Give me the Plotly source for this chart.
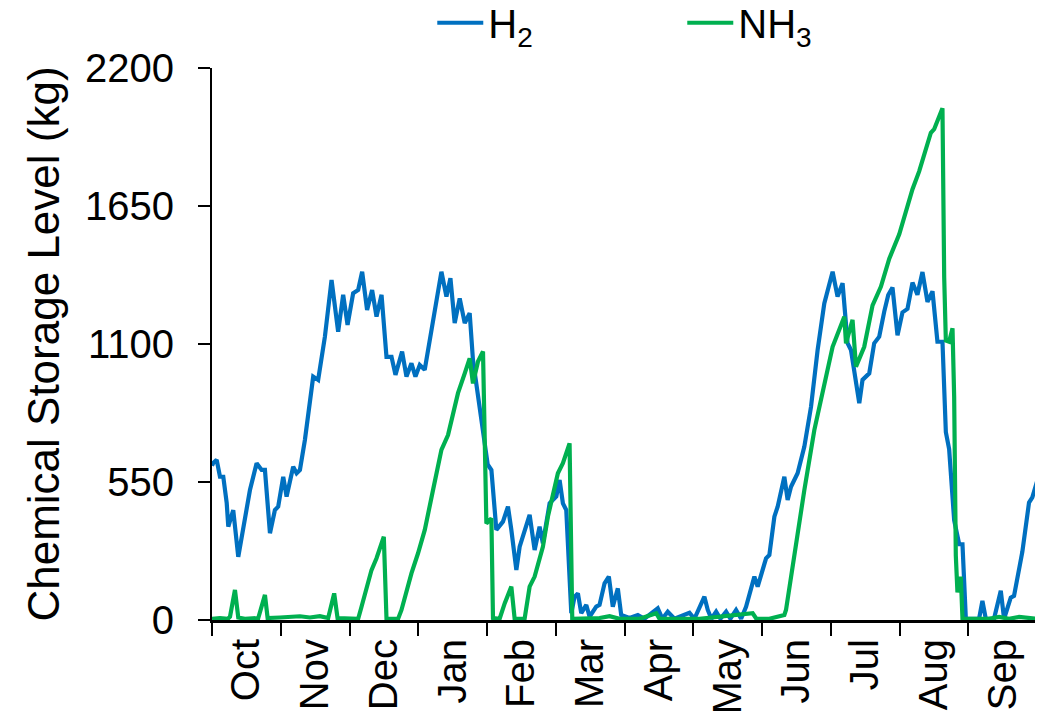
import plotly.graph_objects as go

months = ["Oct", "Nov", "Dec", "Jan", "Feb", "Mar", "Apr", "May", "Jun", "Jul", "Aug", "Sep"]

# time position in months since start of October (each month equal width)
h2_t = [0.000, 0.019, 0.068, 0.116, 0.164, 0.214, 0.237, 0.309, 0.382, 0.431, 0.479, 0.552, 0.649, 0.722,
        0.770, 0.843, 0.915, 0.963, 1.036, 1.085, 1.181, 1.231, 1.279, 1.351, 1.472, 1.544, 1.642, 1.739,
        1.835, 1.908, 1.972, 2.053, 2.126, 2.184, 2.256, 2.329, 2.393, 2.466, 2.538, 2.611, 2.669, 2.765,
        2.829, 2.901, 2.959, 3.022, 3.094, 3.215, 3.337, 3.410, 3.468, 3.530, 3.603, 3.676, 3.748, 3.796,
        3.865, 3.966, 4.010, 4.064, 4.112, 4.136, 4.232, 4.305, 4.354, 4.427, 4.475, 4.620, 4.693, 4.765,
        4.813, 4.911, 5.008, 5.056, 5.104, 5.153, 5.226, 5.274, 5.322, 5.371, 5.444, 5.492, 5.589, 5.637,
        5.710, 5.772, 5.830, 5.903, 5.952, 6.073, 6.194, 6.291, 6.484, 6.552, 6.629, 6.727, 6.945, 7.017,
        7.162, 7.211, 7.264, 7.333, 7.395, 7.478, 7.540, 7.623, 7.696, 7.768, 7.889, 7.937, 8.059, 8.107,
        8.180, 8.228, 8.325, 8.373, 8.422, 8.518, 8.616, 8.713, 8.809, 8.906, 9.027, 9.099, 9.172, 9.245,
        9.294, 9.367, 9.415, 9.462, 9.560, 9.632, 9.705, 9.778, 9.836, 9.898, 9.971, 10.043, 10.116, 10.189,
        10.261, 10.334, 10.407, 10.480, 10.552, 10.625, 10.674, 10.722, 10.795, 10.868, 10.916, 10.965,
        11.085, 11.158, 11.206, 11.255, 11.375, 11.473, 11.521, 11.618, 11.666, 11.787, 11.884, 11.932, 12.000]
h2_kg = [615, 626, 638, 571, 571, 466, 372, 438, 252, 332, 399, 518, 625, 598,
         598, 346, 438, 452, 571, 492, 611, 585, 598, 717, 970, 957, 1129, 1355,
         1149, 1296, 1176, 1302, 1315, 1388, 1236, 1315, 1209, 1296, 1049, 1049, 977, 1070,
         970, 1023, 970, 1016, 997, 1196, 1388, 1289, 1362, 1183, 1282, 1183, 1223, 1036,
         900, 731, 620, 598, 412, 359, 392, 452, 359, 199, 292, 419, 279, 372,
         306, 465, 492, 558, 465, 438, 27, 93, 106, 27, 60, 13, 53, 60,
         146, 173, 53, 126, 20, 8, 20, 5, 47, 5, 33, 5, 29, 5,
         93, 40, 5, 33, 5, 33, 5, 40, 5, 53, 173, 133, 246, 259,
         412, 452, 571, 478, 531, 585, 691, 850, 1076, 1262, 1388, 1289, 1342, 1103,
         1076, 943, 864, 957, 983, 1103, 1129, 1229, 1295, 1325, 1135, 1226, 1240, 1345,
         1296, 1387, 1268, 1310, 1109, 1109, 749, 681, 398, 302, 302, 5,
         5, 5, 76, 5, 5, 117, 5, 89, 96, 272, 468, 489, 552]

nh3_t = [0.000, 0.116, 0.232, 0.262, 0.334, 0.382, 0.479, 0.625, 0.673, 0.770, 0.809, 0.988, 1.133, 1.279,
         1.424, 1.569, 1.690, 1.777, 1.826, 2.005, 2.126, 2.175, 2.320, 2.393, 2.499, 2.538, 2.707, 2.756,
         2.901, 2.997, 3.095, 3.215, 3.337, 3.433, 3.578, 3.676, 3.748, 3.796, 3.869, 3.942, 3.966, 3.991,
         4.064, 4.087, 4.184, 4.257, 4.354, 4.402, 4.547, 4.620, 4.693, 4.813, 4.886, 4.959, 5.031, 5.104,
         5.201, 5.240, 5.637, 5.783, 5.928, 6.219, 6.461, 6.509, 7.090, 7.864, 7.918, 8.107, 8.325, 8.349,
         8.495, 8.616, 8.761, 8.906, 9.027, 9.197, 9.222, 9.317, 9.367, 9.487, 9.608, 9.730, 9.851, 9.996,
         10.189, 10.286, 10.456, 10.504, 10.625, 10.650, 10.674, 10.722, 10.771, 10.795, 10.819, 10.843,
         10.892, 10.916, 11.304, 11.449, 11.594, 11.739, 11.884, 12.000]
nh3_kg = [5, 8, 5, 13, 120, 10, 5, 8, 8, 100, 8, 10, 12, 15,
          10, 15, 8, 106, 8, 5, 5, 53, 199, 246, 332, 5, 5, 40,
          186, 266, 359, 518, 678, 737, 904, 983, 1043, 943, 1030, 1070, 731, 385,
          405, 8, 5, 66, 133, 5, 5, 133, 173, 292, 412, 492, 585, 625,
          704, 5, 8, 15, 5, 5, 27, 5, 5, 27, 5, 5, 20, 40,
          306, 518, 757, 943, 1089, 1209, 1103, 1196, 1010, 1089, 1254, 1329, 1440, 1537,
          1717, 1788, 1942, 1956, 2040, 1366, 1114, 1109, 1163, 891, 257, 110,
          173, 5, 5, 12, 5, 12, 10, 5]

y_ticks = [0, 550, 1100, 1650, 2200]

FONT = "Liberation Sans, Arial, sans-serif"

fig = go.Figure()
fig.add_trace(go.Scatter(x=h2_t, y=h2_kg, mode="lines", name="H<sub>2</sub>",
                         line=dict(color="#0070C0", width=4.2)))
fig.add_trace(go.Scatter(x=nh3_t, y=nh3_kg, mode="lines", name="NH<sub>3</sub>",
                         line=dict(color="#00B050", width=4.2)))

# the page body adds an 8 px offset, so the figure is sized to fit the window
fig.update_layout(
    width=1035, height=703,
    margin=dict(l=204, r=6, t=60, b=91, autoexpand=False),
    paper_bgcolor="white", plot_bgcolor="white",
    font=dict(family=FONT, size=40, color="black"),
    showlegend=True,
    legend=dict(orientation="h", x=0.267, y=1.082, xanchor="left", yanchor="middle",
                font=dict(size=40), entrywidth=189, entrywidthmode="pixels",
                bgcolor="rgba(0,0,0,0)", itemwidth=46),
)
fig.update_xaxes(
    range=[0, 12],
    automargin=False,
    tickmode="array",
    tickvals=[i + 0.5 for i in range(len(months))],
    ticktext=months,
    ticks="",
    tickangle=-90,
    tickfont=dict(size=40),
    showgrid=False, zeroline=False,
    showline=True, linecolor="black", linewidth=3,
    minor=dict(tickmode="array", tickvals=list(range(len(months) + 1)), ticks="outside",
               ticklen=13, tickwidth=2, tickcolor="black", showgrid=False),
)
fig.update_yaxes(
    range=[0, 2200],
    automargin=False,
    tickmode="array", tickvals=y_ticks, ticktext=[str(v) for v in y_ticks],
    ticks="outside", ticklen=12, tickwidth=2, tickcolor="black",
    ticklabelstandoff=16,
    tickfont=dict(size=40),
    showgrid=False, zeroline=False,
    showline=True, linecolor="black", linewidth=2, mirror=True,
    title=dict(text="Chemical Storage Level (kg)", font=dict(size=44), standoff=12),
)

fig.write_html("out.html")
